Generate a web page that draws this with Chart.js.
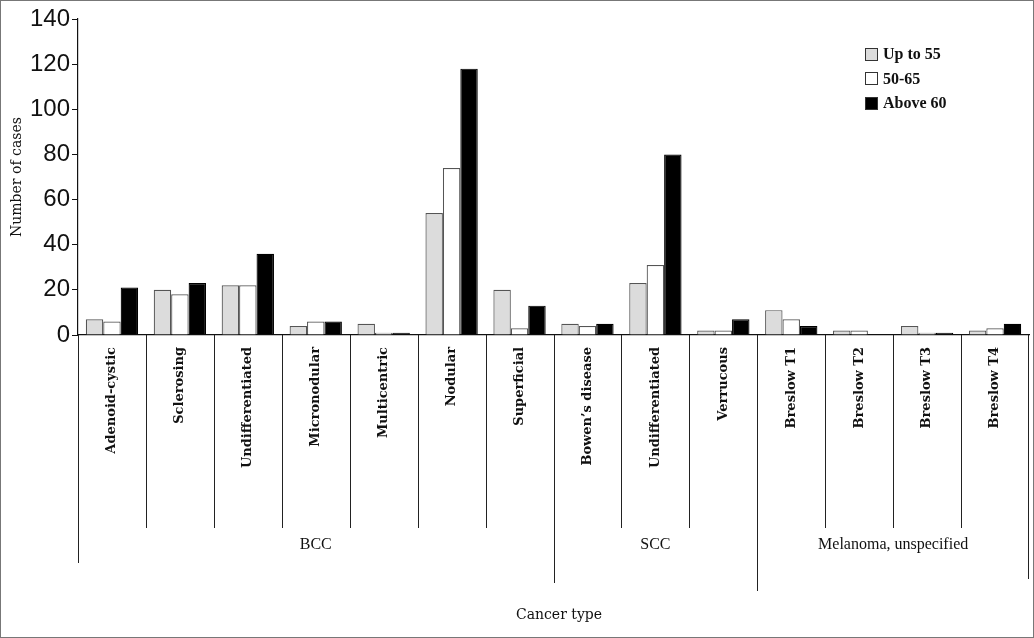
<!DOCTYPE html>
<html>
<head>
<meta charset="utf-8">
<script src="https://cdn.jsdelivr.net/npm/chart.js@4.4.1/dist/chart.umd.min.js"></script>
<style>
  html, body { margin: 0; padding: 0; background: #fff; }
  #wrap { position: relative; width: 1034px; height: 638px; box-sizing: border-box; border: 1px solid #777; }
  #legend { position: absolute; left: 864px; top: 41px; font: bold 16px "Liberation Serif", serif; color: #111; }
  #legend div { height: 24.5px; display: flex; align-items: center; }
  #legend span.box { display: inline-block; width: 11px; height: 11px; border: 1px solid #333; margin-right: 5px; }
</style>
</head>
<body>
<div id="wrap">
  <canvas id="chart_cases" width="1032" height="636"></canvas>
  <div id="legend"></div>
</div>
<script>
// subtypes on the x axis
var subtypes = ['Adenoid-cystic', 'Sclerosing', 'Undifferentiated', 'Micronodular', 'Multicentric', 'Nodular', 'Superficial',
                'Bowen\u2019s disease', 'Undifferentiated', 'Verrucous',
                'Breslow T1', 'Breslow T2', 'Breslow T3', 'Breslow T4'];
// cancer type groups: name, first and last subtype index
var groupNames = ['BCC', 'SCC', 'Melanoma, unspecified'];
var groupStart = [0, 7, 10];
var groupEnd = [6, 9, 13];
var ageLabels = ['Up to 55', '50-65', 'Above 60'];
var upTo55  = [7, 20, 22, 4, 5, 54, 20, 5, 23, 2, 11, 2, 4, 2];
var from50  = [6, 18, 22, 6, 1, 74, 3, 4, 31, 2, 7, 2, 1, 3];
var above60 = [21, 23, 36, 6, 1, 118, 13, 5, 80, 7, 4, 0, 1, 5];
var yTicks = [0, 20, 40, 60, 80, 100, 120, 140];

var fills = ['#dcdcdc', '#ffffff', '#000000'];
var edges = ['#555555', '#555555', '#000000'];

// dividers and group labels under the x axis
var groupLines = {
    id: 'groupLines',
    afterDraw: function (chart) {
        var ctx = chart.ctx;
        var x = chart.scales.x;
        var area = chart.chartArea;
        var base = area.bottom;
        function edge(i) {
            if (i <= 0) return area.left;
            if (i >= subtypes.length) return area.right;
            return (x.getPixelForValue(i - 1) + x.getPixelForValue(i)) / 2;
        }
        ctx.save();
        ctx.strokeStyle = '#222';
        ctx.lineWidth = 1;
        for (var i = 1; i < subtypes.length; i++) {
            if (groupStart.indexOf(i) >= 0) continue;
            var px = Math.round(edge(i)) + 0.5;
            ctx.beginPath(); ctx.moveTo(px, base); ctx.lineTo(px, 527); ctx.stroke();
        }
        var bottoms = [562, 582, 590];
        for (var g = 0; g < groupStart.length; g++) {
            var gx = Math.round(edge(groupStart[g])) + 0.5;
            ctx.beginPath(); ctx.moveTo(gx, base); ctx.lineTo(gx, bottoms[g]); ctx.stroke();
        }
        var rx = Math.round(area.right) - 0.5;
        ctx.beginPath(); ctx.moveTo(rx, base); ctx.lineTo(rx, 578); ctx.stroke();

        ctx.fillStyle = '#111';
        ctx.font = '16px "Liberation Serif", serif';
        ctx.textAlign = 'center';
        ctx.textBaseline = 'middle';
        for (var k = 0; k < groupNames.length; k++) {
            var cx = (edge(groupStart[k]) + edge(groupEnd[k] + 1)) / 2;
            ctx.fillText(groupNames[k], cx, 544);
        }
        ctx.font = '14px "DejaVu Serif", serif';
        ctx.fillText('Cancer type', 558, 614);
        ctx.restore();
    }
};

var ctx = document.getElementById('chart_cases').getContext('2d');
var chart = new Chart(ctx, {
    type: 'bar',
    data: {
        labels: subtypes,
        datasets: [upTo55, from50, above60].map(function (vals, i) {
            return {
                label: ageLabels[i],
                data: vals,
                backgroundColor: fills[i],
                borderColor: edges[i],
                borderWidth: 1.2,
                borderSkipped: 'bottom',
                categoryPercentage: 0.77,
                barPercentage: 1.0
            };
        })
    },
    options: {
        responsive: false,
        animation: false,
        layout: { padding: { top: 18, right: 4, left: 0, bottom: 0 } },
        plugins: {
            legend: { display: false },
            tooltip: { enabled: false }
        },
        scales: {
            x: {
                grid: { display: false },
                border: { display: true, color: '#111', width: 1.2 },
                ticks: {
                    color: '#111',
                    maxRotation: 90,
                    minRotation: 90,
                    padding: 4,
                    autoSkip: false,
                    font: { family: '"DejaVu Serif", serif', size: 13, weight: 'bold' }
                },
                afterFit: function (scale) { scale.height = 302; }
            },
            y: {
                min: 0,
                max: 140,
                afterBuildTicks: function (scale) {
                    scale.ticks = yTicks.map(function (v) { return { value: v }; });
                },
                grid: { display: true, drawOnChartArea: false, drawTicks: true, tickLength: 6, color: '#111' },
                border: { display: true, color: '#111', width: 1.2 },
                ticks: {
                    color: '#111',
                    padding: 2,
                    font: { family: '"Liberation Sans", Arial, sans-serif', size: 24 }
                },
                title: {
                    display: true,
                    text: 'Number of cases',
                    color: '#111',
                    padding: { top: 8, bottom: 2 },
                    font: { family: '"DejaVu Serif", serif', size: 14 }
                },
                afterFit: function (scale) { scale.width = 77; }
            }
        }
    },
    plugins: [groupLines]
});

// legend as a vertical list at the top right
var legend = document.getElementById('legend');
ageLabels.forEach(function (name, i) {
    var row = document.createElement('div');
    row.innerHTML = '<span class="box" style="background:' + fills[i] + '"></span>' + name;
    legend.appendChild(row);
});
</script>
</body>
</html>
